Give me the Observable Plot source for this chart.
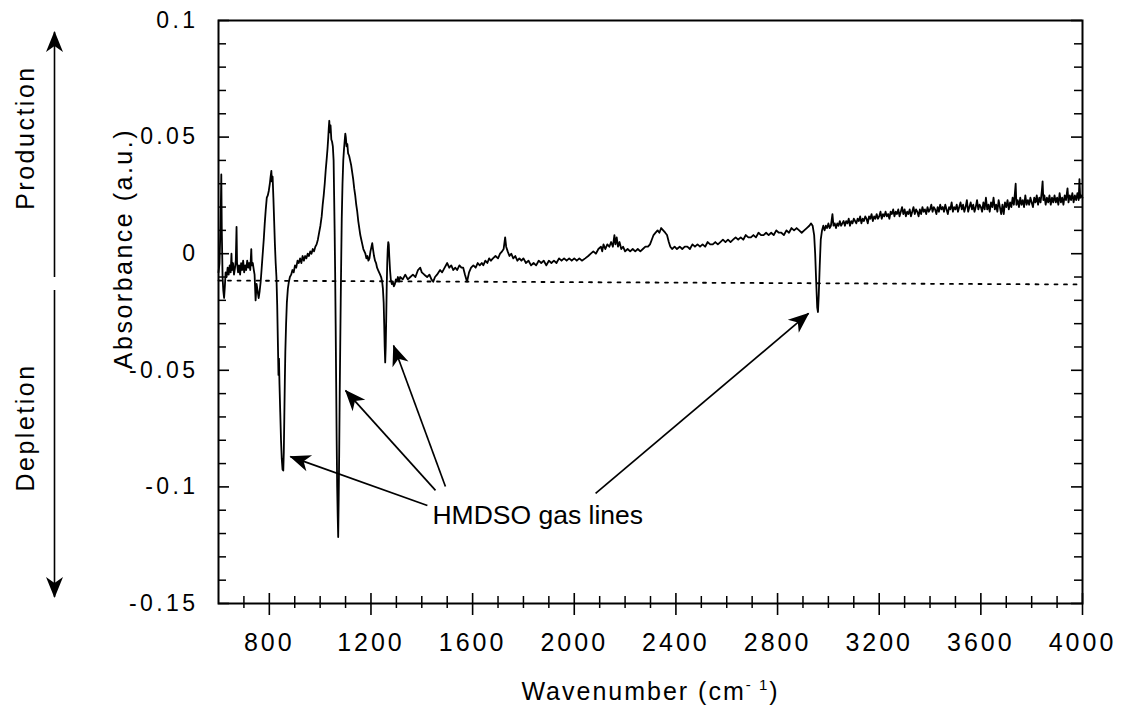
<!DOCTYPE html>
<html>
<head>
<meta charset="utf-8">
<script src="https://cdn.jsdelivr.net/npm/d3@7"></script>
<script src="https://cdn.jsdelivr.net/npm/@observablehq/plot@0.6"></script>
<style>
  html, body { margin: 0; padding: 0; background: #fff; }
</style>
</head>
<body>
<div id="chart"></div>
<script>
// ---------- axes / ticks ----------
const xDomain = [600, 4000];
const yDomain = [-0.15, 0.1];
const xMajorTicks = [800, 1200, 1600, 2000, 2400, 2800, 3200, 3600, 4000];
const xMinorTicks = [700, 900, 1000, 1100, 1300, 1400, 1500, 1700, 1800, 1900, 2100, 2200, 2300,
  2500, 2600, 2700, 2900, 3000, 3100, 3300, 3400, 3500, 3700, 3800, 3900];
const yMajorTicks = [0.1, 0.05, 0, -0.05, -0.1, -0.15];
const yMinorTicks = [0.09, 0.08, 0.07, 0.06, 0.04, 0.03, 0.02, 0.01, -0.01, -0.02, -0.03, -0.04,
  -0.06, -0.07, -0.08, -0.09, -0.11, -0.12, -0.13, -0.14];
const xTitle = "Wavenumber (cm";
const xTitleSup = "- 1";
const yTitle = "Absorbance (a.u.)";

// ---------- spectrum (wavenumber, absorbance) ----------
const lowRegion = [
  [600,-0.008],[604,-0.004],[608,0.012],[611,0.034],[613,0.010],[616,-0.010],[619,-0.016],[622,-0.019],
  [625,-0.014],[628,-0.008],[632,-0.010],[636,-0.006],[640,-0.009],[644,-0.005],[648,-0.008],[651,0.000],
  [653,-0.007],[657,-0.004],[661,-0.009],[665,-0.006],[668,-0.003],[671,0.0115],[673,-0.004],[677,-0.008],
  [681,-0.005],[685,-0.009],[689,-0.004],[693,-0.007],[697,-0.003],[701,-0.008],[705,-0.005],[709,-0.007],
  [713,-0.003],[717,-0.006],[721,-0.004],[725,-0.007],[729,0.002],[731,-0.005],[735,-0.004],[739,-0.007],
  [742,-0.009],[746,-0.020],[750,-0.013],[754,-0.016],[758,-0.019],[762,-0.016],[766,-0.012],[770,-0.006],
  [774,0.000],[778,0.006],[782,0.013],[786,0.019],[790,0.024],[794,0.025],[798,0.027],[802,0.030],
  [805,0.033],[808,0.0355],[810,0.031],[813,0.033],[816,0.024],[819,0.014],[822,0.004],[825,-0.004],
  [828,-0.010],[831,-0.022],[834,-0.040],[836,-0.052],[838,-0.045],[840,-0.056],[843,-0.068],[846,-0.080],
  [849,-0.088],[852,-0.0925],[855,-0.093],[857,-0.085],[859,-0.070],[861,-0.055],[863,-0.042],[866,-0.030],
  [869,-0.021],[873,-0.015],[877,-0.012],[881,-0.010],[886,-0.009],[891,-0.007],[896,-0.008],[901,-0.005],
  [906,-0.006],[911,-0.003],[916,-0.004],[921,-0.002],[926,-0.004],[931,-0.001],[936,-0.003],[941,-0.001],
  [946,-0.002],[951,0.000],[956,-0.001],[961,0.001],[966,0.000],[971,0.002],[976,0.001],[981,0.003],
  [986,0.004],[991,0.006],[996,0.009],[1001,0.012],[1006,0.016],[1010,0.021],[1014,0.025],[1018,0.030],
  [1022,0.036],[1026,0.041],[1029,0.045],[1032,0.050],[1034,0.054],[1036,0.057],[1038,0.052],[1041,0.055],
  [1044,0.049],[1047,0.048],[1050,0.046],[1053,0.040],[1055,0.025],[1057,0.010],[1059,-0.008],[1061,-0.030],
  [1063,-0.055],[1065,-0.080],[1067,-0.100],[1069,-0.112],[1071,-0.1215],[1073,-0.105],[1075,-0.085],
  [1077,-0.060],[1079,-0.040],[1081,-0.020],[1083,-0.002],[1085,0.015],[1088,0.030],[1091,0.040],
  [1094,0.045],[1097,0.049],[1099,0.0515],[1101,0.050],[1104,0.046],[1107,0.047],[1110,0.043],[1114,0.042],
  [1118,0.040],[1122,0.038],[1126,0.035],[1130,0.032],[1134,0.028],[1138,0.025],[1142,0.021],[1146,0.018],
  [1150,0.014],[1154,0.011],[1158,0.008],[1162,0.006],[1166,0.004],[1170,0.002],[1174,0.001],[1178,0.000],
  [1182,-0.002],[1186,-0.001],[1190,-0.003],[1194,-0.002],[1198,0.001],[1202,0.003],[1205,0.0045],
  [1208,0.002],[1212,-0.001],[1216,-0.003],[1220,-0.004],[1224,-0.006],[1228,-0.007],[1232,-0.008],
  [1236,-0.009],[1240,-0.010],[1244,-0.012],[1247,-0.015],[1250,-0.021],[1252,-0.030],[1254,-0.040],
  [1256,-0.0466],[1258,-0.040],[1260,-0.028],[1262,-0.014],[1264,-0.004],[1266,0.002],[1268,0.005],
  [1270,0.004],[1272,-0.001],[1275,-0.007],[1278,-0.011],[1282,-0.013],[1286,-0.012],[1290,-0.014],
  [1294,-0.013],[1298,-0.011],[1302,-0.012],[1306,-0.010],[1310,-0.012]
];
const midRegion = [
  [1315,-0.010],[1325,-0.011],[1335,-0.009],[1345,-0.011],[1355,-0.010],[1365,-0.009],[1375,-0.010],
  [1385,-0.007],[1394,-0.006],[1400,-0.008],[1410,-0.009],[1421,-0.010],[1430,-0.009],[1438,-0.011],
  [1445,-0.012],[1452,-0.010],[1460,-0.009],[1472,-0.007],[1480,-0.008],[1490,-0.006],[1500,-0.004],
  [1508,-0.006],[1516,-0.005],[1524,-0.007],[1532,-0.006],[1539,-0.007],[1548,-0.005],[1556,-0.006],
  [1563,-0.006],[1570,-0.009],[1578,-0.012],[1586,-0.008],[1594,-0.006],[1603,-0.005],[1612,-0.006],
  [1620,-0.004],[1628,-0.005],[1636,-0.004],[1642,-0.005],[1650,-0.003],[1658,-0.004],[1665,-0.002],
  [1672,-0.003],[1680,-0.002],[1690,-0.001],[1700,-0.002],[1708,0.000],[1716,0.001],[1722,0.002],
  [1728,0.007],[1732,0.003],[1738,0.001],[1745,-0.001],[1752,0.000],[1760,-0.002],[1768,-0.001],
  [1776,-0.003],[1784,-0.002],[1792,-0.003],[1800,-0.002],[1810,-0.004],[1820,-0.003],[1830,-0.005],
  [1840,-0.004],[1850,-0.005],[1860,-0.003],[1870,-0.004],[1880,-0.003],[1890,-0.005],[1900,-0.003],
  [1910,-0.004],[1920,-0.003],[1930,-0.004],[1940,-0.002],[1950,-0.003],[1960,-0.002],[1970,-0.003],
  [1980,-0.002],[1990,-0.003],[2000,-0.002],[2010,-0.003],[2020,-0.002],[2030,-0.003],[2043,-0.002],
  [2055,-0.001],[2065,0.000],[2075,0.001],[2085,0.000],[2095,0.002],[2105,0.003],[2110,0.001],
  [2115,0.004],[2122,0.002],[2130,0.004],[2138,0.003],[2145,0.005],[2152,0.003],[2158,0.008],
  [2162,0.004],[2167,0.007],[2172,0.003],[2178,0.005],[2185,0.002],[2192,0.003],[2200,0.001],
  [2210,0.002],[2220,0.001],[2230,0.002],[2240,0.001],[2250,0.002],[2260,0.001],[2270,0.002],
  [2280,0.003],[2290,0.003],[2298,0.004],[2305,0.006],[2312,0.008],[2320,0.009],[2328,0.010],
  [2335,0.009],[2342,0.011],[2350,0.010],[2358,0.009],[2365,0.008],[2372,0.005],[2378,0.003],
  [2385,0.002],[2395,0.003],[2404,0.002],[2415,0.003],[2425,0.002],[2435,0.003],[2445,0.003],
  [2455,0.002],[2465,0.004],[2475,0.003],[2485,0.004],[2495,0.003],[2505,0.004],[2515,0.003],
  [2525,0.005],[2535,0.004],[2545,0.004],[2555,0.005],[2565,0.004],[2575,0.005],[2585,0.006],
  [2595,0.005],[2605,0.006],[2615,0.005],[2625,0.006],[2635,0.007],[2645,0.006],[2655,0.007],
  [2665,0.006],[2675,0.008],[2685,0.007],[2695,0.007],[2705,0.008],[2715,0.007],[2725,0.009],
  [2735,0.008],[2745,0.008],[2755,0.009],[2765,0.008],[2775,0.009],[2785,0.008],[2795,0.010],
  [2805,0.009],[2815,0.009],[2825,0.008],[2835,0.010],[2845,0.009],[2855,0.011],[2865,0.010],
  [2875,0.011],[2885,0.010],[2895,0.009],[2905,0.010],[2915,0.011],[2925,0.012]
];
const ch3Band = [
  [2932,0.013],[2938,0.012],[2944,0.008],[2948,0.000],[2952,-0.012],[2956,-0.023],[2959,-0.025],
  [2962,-0.018],[2966,-0.005]
];
const highRegion = [
  [2970,0.006],[2975,0.010],[2980,0.012],[2985,0.010],[2990,0.012],[2995,0.011],[3000,0.013],[3005,0.011],
  [3010,0.012],[3016,0.017],[3020,0.012],[3025,0.013],[3030,0.011],[3035,0.013],[3040,0.012],[3045,0.014],
  [3050,0.012],[3055,0.013],[3060,0.014],[3065,0.012],[3070,0.014],[3075,0.013],[3080,0.015],[3085,0.012],
  [3090,0.014],[3095,0.013],[3100,0.015],[3105,0.014],[3110,0.013],[3115,0.015],[3120,0.014],[3125,0.016],
  [3130,0.013],[3135,0.015],[3140,0.014],[3145,0.016],[3150,0.015],[3155,0.013],[3160,0.016],[3165,0.015],
  [3170,0.017],[3175,0.014],[3180,0.016],[3185,0.015],[3190,0.017],[3195,0.015],[3200,0.016],[3205,0.018],
  [3210,0.015],[3215,0.017],[3220,0.016],[3225,0.018],[3230,0.016],[3235,0.017],[3240,0.015],[3245,0.018],
  [3250,0.017],[3255,0.019],[3260,0.016],[3265,0.018],[3270,0.017],[3275,0.019],[3280,0.016],[3285,0.018],
  [3290,0.020],[3295,0.017],[3300,0.019],[3305,0.016],[3310,0.018],[3315,0.017],[3320,0.019],[3325,0.016],
  [3330,0.018],[3335,0.020],[3340,0.017],[3345,0.019],[3350,0.018],[3355,0.016],[3360,0.019],[3365,0.017],
  [3370,0.020],[3375,0.018],[3380,0.019],[3385,0.017],[3390,0.020],[3395,0.018],[3400,0.019],[3405,0.021],
  [3410,0.018],[3415,0.020],[3420,0.019],[3425,0.017],[3430,0.020],[3435,0.018],[3440,0.021],[3445,0.019],
  [3450,0.020],[3455,0.018],[3460,0.021],[3465,0.019],[3470,0.017],[3475,0.020],[3480,0.019],[3485,0.022],
  [3490,0.018],[3495,0.020],[3500,0.019],[3505,0.021],[3510,0.018],[3515,0.020],[3520,0.022],[3525,0.019],
  [3530,0.021],[3535,0.018],[3540,0.020],[3545,0.023],[3550,0.018],[3555,0.020],[3560,0.022],[3565,0.019],
  [3570,0.021],[3575,0.018],[3580,0.020],[3585,0.023],[3590,0.019],[3595,0.021],[3600,0.020],[3605,0.018],
  [3610,0.022],[3615,0.019],[3620,0.024],[3625,0.019],[3630,0.021],[3635,0.018],[3640,0.022],[3645,0.020],
  [3650,0.024],[3655,0.019],[3660,0.021],[3665,0.018],[3670,0.023],[3675,0.020],[3680,0.017],[3685,0.021],
  [3690,0.017],[3695,0.022],[3700,0.020],[3705,0.023],[3710,0.019],[3715,0.022],[3720,0.020],[3725,0.024],
  [3730,0.021],[3734,0.026],[3737,0.030],[3740,0.021],[3745,0.023],[3750,0.020],[3755,0.024],[3760,0.021],
  [3765,0.023],[3770,0.020],[3775,0.025],[3780,0.021],[3785,0.023],[3790,0.021],[3795,0.024],[3800,0.022],
  [3805,0.020],[3810,0.024],[3815,0.022],[3820,0.025],[3825,0.021],[3830,0.024],[3835,0.022],[3840,0.027],
  [3843,0.031],[3846,0.023],[3850,0.025],[3855,0.021],[3860,0.024],[3865,0.022],[3870,0.025],[3875,0.021],
  [3880,0.024],[3885,0.022],[3890,0.025],[3895,0.022],[3900,0.024],[3905,0.021],[3910,0.026],[3915,0.022],
  [3920,0.024],[3925,0.021],[3930,0.025],[3935,0.023],[3941,0.028],[3945,0.022],[3950,0.025],[3955,0.023],
  [3960,0.026],[3965,0.022],[3970,0.025],[3975,0.023],[3980,0.026],[3985,0.023],[3988,0.032],[3991,0.024],
  [3995,0.025],[4000,0.024]
];
const dottedBaseline = [[600, -0.0115], [4000, -0.0132]];

// ---------- annotations (data units) ----------
const annotationLabel = "HMDSO gas lines";
const annotationAnchor = [1442, -0.1157];
const annotationArrows = [
  {x1: 1422, y1: -0.1080, x2: 883,  y2: -0.0870},
  {x1: 1454, y1: -0.1015, x2: 1100, y2: -0.0587},
  {x1: 1493, y1: -0.0998, x2: 1289, y2: -0.0394},
  {x1: 2084, y1: -0.1028, x2: 2922, y2: -0.0256}
];
const sideLabels = [
  {text: "Production", y: 0.0498},
  {text: "Depletion", y: -0.0745}
];
const sideArrows = [
  {y1: -0.0102, y2: 0.0949},
  {y1: -0.0158, y2: -0.1474}
];

// ---------- layout ----------
const W = 1122, H = 709, ML = 218, MR = 40, MT = 20, MB = 106;
const PW = W - ML - MR, PH = H - MT - MB;
const FONT = "'Liberation Sans', Arial, Helvetica, sans-serif";

const spectrum = [...lowRegion, ...midRegion, ...ch3Band, ...highRegion].map(([w, a]) => ({w, a}));
const fmt = d => String(d);

const plot = Plot.plot({
  width: W, height: H,
  marginLeft: ML, marginRight: MR, marginTop: MT, marginBottom: MB,
  x: {domain: xDomain},
  y: {domain: yDomain},
  style: {fontFamily: FONT, background: "white", color: "black"},
  marks: [
    Plot.line(dottedBaseline, {x: d => d[0], y: d => d[1], stroke: "black", strokeWidth: 1.8, strokeDasharray: "3,6.5"}),
    Plot.line(spectrum, {x: "w", y: "a", stroke: "black", strokeWidth: 1.8, strokeLinejoin: "round"}),
    Plot.frame({stroke: "black", strokeWidth: 2}),
    // bottom ticks crossing the axis
    Plot.tickX(xMinorTicks, {x: d => d, insetTop: PH - 12, dy: 5, stroke: "black", strokeWidth: 1.5}),
    Plot.tickX(xMajorTicks, {x: d => d, insetTop: PH - 22, dy: 12, stroke: "black", strokeWidth: 1.6}),
    // left & right inward ticks
    Plot.tickY(yMinorTicks, {y: d => d, insetRight: PW - 8, stroke: "black", strokeWidth: 1.5}),
    Plot.tickY(yMinorTicks, {y: d => d, insetLeft: PW - 8, stroke: "black", strokeWidth: 1.5}),
    Plot.tickY(yMajorTicks, {y: d => d, insetRight: PW - 11, stroke: "black", strokeWidth: 1.6}),
    Plot.tickY(yMajorTicks, {y: d => d, insetLeft: PW - 11, stroke: "black", strokeWidth: 1.6}),
    Plot.axisX({ticks: xMajorTicks, tickSize: 0, tickPadding: 30, fontSize: 25, tickFormat: fmt, label: null, ariaDescription: "x-ticklabels"}),
    Plot.axisY({ticks: yMajorTicks, tickSize: 0, tickPadding: 20, fontSize: 23, tickFormat: fmt, label: null, ariaDescription: "y-ticklabels"}),
    // titles
    Plot.text([xTitle], {frameAnchor: "bottom", dy: 96, lineAnchor: "bottom", fontSize: 25, ariaDescription: "x-title", fill: "black"}),
    Plot.text([yTitle], {frameAnchor: "left", y: [0.0022], dx: -87, rotate: -90, lineAnchor: "bottom", textAnchor: "middle", fontSize: 25, ariaDescription: "y-title", fill: "black"}),
    Plot.text(sideLabels, {frameAnchor: "left", y: "y", text: "text", dx: -185, rotate: -90, lineAnchor: "bottom", textAnchor: "middle", fontSize: 25, ariaDescription: "side-label", fill: "black"}),
    Plot.ruleX(sideArrows, {x: () => xDomain[0], y1: "y1", y2: "y2", dx: -164, stroke: "black", strokeWidth: 1.6, ariaDescription: "side-arrow"}),
    // annotation
    Plot.link(annotationArrows, {x1: "x1", y1: "y1", x2: "x2", y2: "y2", stroke: "black", strokeWidth: 1.7, ariaDescription: "annotation-arrow"}),
    Plot.text([annotationLabel], {x: () => annotationAnchor[0], y: () => annotationAnchor[1], textAnchor: "start", lineAnchor: "bottom", fontSize: 26.5, fill: "black", ariaDescription: "annotation-label"})
  ]
});

const svg = d3.select(plot);
const pick = (desc, tag) => svg.selectAll(`[aria-description="${desc}"] ${tag}`);

// arrowheads (filled, barbed)
const defs = svg.insert("defs", ":first-child");
defs.append("marker")
  .attr("id", "barb").attr("viewBox", "-22 -10 24 20")
  .attr("markerWidth", 24).attr("markerHeight", 20)
  .attr("markerUnits", "userSpaceOnUse").attr("orient", "auto")
  .attr("refX", 0).attr("refY", 0)
  .append("path").attr("d", "M1,0 L-20,-8.5 L-14,0 L-20,8.5 Z").attr("fill", "black").attr("stroke", "none");
pick("annotation-arrow", "path").attr("marker-end", "url(#barb)");
pick("side-arrow", "line").attr("marker-end", "url(#barb)");

// letter spacing like the original typesetting
pick("x-ticklabels", "text").style("letter-spacing", "3px");
pick("y-ticklabels", "text").style("letter-spacing", "3.4px");
pick("y-title", "text").style("letter-spacing", "2.5px");
pick("side-label", "text").style("letter-spacing", "2.5px");
pick("x-title", "text").style("letter-spacing", "2px");

// superscript in the x title
pick("x-title", "text").each(function () {
  const t = d3.select(this);
  t.text(null);
  t.append("tspan").text(xTitle);
  t.append("tspan").attr("dy", -10).attr("font-size", 15).text(xTitleSup);
  t.append("tspan").attr("dy", 10).text(")");
});

document.getElementById("chart").appendChild(plot);
</script>
</body>
</html>
